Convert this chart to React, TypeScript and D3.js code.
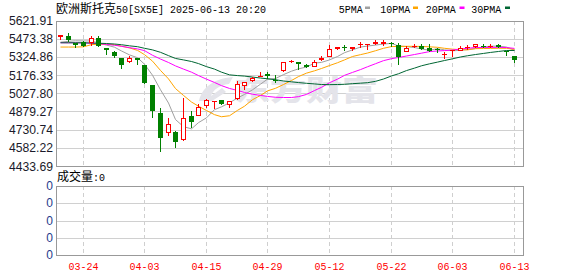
import React from 'react';
import * as d3 from 'd3';

const dates = ['03-19','03-20','03-21','03-24','03-25','03-26','03-27','03-28','03-31','04-01','04-02','04-03','04-04','04-07','04-08','04-09','04-10','04-11','04-14','04-15','04-16','04-17','04-22','04-23','04-24','04-25','04-28','04-29','04-30','05-02','05-05','05-06','05-07','05-08','05-09','05-12','05-13','05-14','05-15','05-16','05-19','05-20','05-21','05-22','05-23','05-26','05-27','05-28','05-29','05-30','06-02','06-03','06-04','06-05','06-06','06-09','06-10','06-11','06-12','06-13'];

const opens = [5486,5498,5438,5446,5438,5476,5395,5368,5314,5281,5314,5255,5092,4870,4707,4713,4646,4841,4841,4922,4956,4971,4935,4979,5084,5124,5167,5184,5138,5206,5284,5281,5259,5243,5298,5324,5389,5405,5389,5418,5422,5427,5433,5440,5422,5368,5405,5411,5400,5390,5343,5373,5373,5400,5405,5416,5405,5421,5373,5330];
const highs = [5505,5519,5441,5452,5492,5492,5400,5370,5316,5336,5316,5259,5092,4908,4827,4716,4992,4881,4943,4980,4962,4972,4965,5124,5121,5160,5200,5200,5178,5284,5296,5287,5265,5303,5330,5422,5408,5421,5408,5449,5429,5465,5459,5443,5438,5413,5433,5427,5433,5400,5368,5378,5416,5424,5433,5427,5433,5427,5375,5333];
const lows = [5465,5443,5400,5405,5417,5405,5340,5319,5222,5271,5259,5103,4827,4546,4675,4581,4640,4740,4838,4910,4897,4930,4908,4975,5052,5118,5165,5146,5113,5200,5276,5214,5235,5240,5295,5320,5385,5373,5373,5400,5384,5425,5417,5405,5255,5365,5395,5378,5362,5357,5308,5324,5370,5380,5400,5395,5400,5400,5330,5275];
const closes = [5503,5460,5422,5413,5476,5417,5379,5336,5255,5319,5303,5113,4886,4659,4778,4627,4826,4795,4914,4971,4962,4943,4962,5105,5119,5152,5172,5168,5127,5281,5292,5265,5243,5287,5314,5389,5405,5399,5405,5427,5427,5449,5443,5427,5324,5400,5411,5389,5373,5385,5352,5378,5400,5408,5427,5411,5413,5405,5368,5298];

const ma5 = [5445,5452,5456,5455,5455,5438,5421,5404,5373,5341,5318,5265,5175,5056,4948,4813,4755,4737,4788,4827,4894,4917,4950,4989,5018,5056,5102,5143,5148,5180,5208,5227,5242,5274,5280,5300,5328,5359,5382,5405,5413,5421,5430,5435,5414,5409,5401,5390,5379,5392,5382,5375,5378,5385,5393,5405,5412,5413,5405,5379];
const ma10 = [5405,5405,5405,5407,5425,5428,5428,5424,5412,5398,5378,5343,5290,5214,5145,5066,5010,4956,4922,4887,4853,4836,4844,4888,4922,4975,5010,5047,5068,5099,5132,5164,5192,5211,5230,5254,5277,5300,5328,5343,5356,5375,5395,5409,5410,5411,5411,5410,5407,5403,5395,5388,5384,5382,5392,5393,5394,5395,5395,5386];
const ma20 = [5440,5440,5440,5438,5436,5432,5427,5420,5411,5400,5390,5376,5338,5307,5279,5251,5225,5200,5172,5143,5116,5090,5067,5051,5034,5020,5010,5002,4995,4993,4993,5000,5018,5050,5076,5114,5143,5174,5198,5221,5244,5269,5294,5310,5320,5332,5344,5355,5368,5373,5376,5381,5389,5395,5401,5402,5402,5403,5401,5394];
const ma30 = [5440,5440,5440,5440,5438,5436,5434,5430,5424,5415,5408,5395,5382,5362,5335,5312,5300,5287,5270,5245,5225,5200,5178,5172,5168,5160,5152,5146,5138,5128,5121,5115,5109,5104,5099,5098,5099,5101,5106,5110,5114,5125,5144,5169,5187,5213,5233,5252,5268,5282,5295,5309,5324,5334,5344,5353,5361,5369,5377,5377];

const yTicks = [5621.91, 5473.38, 5324.86, 5176.33, 5027.80, 4879.27, 4730.74, 4582.22, 4433.69];
const xTickLabels = ['03-24','04-03','04-15','04-29','05-12','05-22','06-03','06-13'];
const volTickLabels = ['0','0','0','0','0'];
const titleCjk = '欧洲斯托克';
const titleRest = '50[SX5E] 2025-06-13 20:20';
const legendNames = ['5PMA','10PMA','20PMA','30PMA'];
const legendColors = ['#a0a0a0','#ffa500','#ff00ff','#006633'];
const volCjk = '成交量';
const volRest = ':0';

const UP = '#ff0000';
const DOWN = '#008000';
const MONO = "'Liberation Mono', 'DejaVu Sans Mono', monospace";
const CJK = "'Noto Sans CJK SC', sans-serif";

export default function App() {
  const W = 578, H = 276;
  const L = 56, R = 523, T = 20.5, B = 166;
  const VT = 186, VB = 255;
  const step = 7.69;

  const x = d3.scaleBand<string>().domain(dates).range([L, L + dates.length * step]).padding(0);
  const cx = (i: number) => Math.round((x(dates[i]) as number) + x.bandwidth() / 2);
  const y = d3.scaleLinear().domain([4433.69, 5621.91]).range([B, T]);
  const vy = d3.scaleLinear().domain([0, volTickLabels.length - 1]).range([VB, VT]);

  const line = d3.line<number>().x((_, i) => cx(i) + 0.5).y((v) => y(v));
  const maSeries = [ma5, ma10, ma20, ma30];

  const legendTextX = [338.7, 380.3, 425.7, 471.3];
  const legendDashX = [365, 413, 459.5, 505];

  const candles = dates.map((d, i) => {
    const c = cx(i);
    const o = opens[i], cl = closes[i];
    const yH = Math.round(y(highs[i]));
    const yL = Math.round(y(lows[i]));
    const yO = Math.round(y(o));
    const yC = Math.round(y(cl));
    const up = cl >= o;
    const top = Math.min(yO, yC);
    const bot = Math.max(yO, yC);
    if (up) {
      const h = Math.max(bot - top, 1);
      return (
        <g key={d}>
          <line x1={c + 0.5} x2={c + 0.5} y1={yH} y2={top} stroke={UP} />
          <line x1={c + 0.5} x2={c + 0.5} y1={top + h} y2={yL} stroke={UP} />
          {bot - top <= 1 ? (
            <rect x={c - 2} y={top} width={5} height={1} fill={UP} />
          ) : (
            <rect x={c - 1.5} y={top + 0.5} width={4} height={h - 1} fill="#fff" stroke={UP} />
          )}
        </g>
      );
    }
    const h = Math.max(bot - top, 1);
    return (
      <g key={d}>
        <line x1={c + 0.5} x2={c + 0.5} y1={yH} y2={yL} stroke={DOWN} />
        <rect x={c - 2} y={top} width={5} height={h} fill={DOWN} />
      </g>
    );
  });

  return (
    <svg width={W} height={H} style={{ position: 'absolute', left: 0, top: 0, background: '#fff' }}>
      <rect x={0} y={0} width={W} height={H} fill="#fff" />
      {/* title */}
      <text x={56} y={12.5} fontFamily={CJK} fontSize={12} fill="#000" textLength={60} lengthAdjust="spacingAndGlyphs">{titleCjk}</text>
      <text x={116} y={12.5} fontFamily={MONO} fontSize={11} fill="#000" textLength={150} lengthAdjust="spacingAndGlyphs">{titleRest}</text>
      {/* legend */}
      {legendNames.map((n, i) => (
        <g key={n}>
          <text x={legendTextX[i]} y={12.5} fontFamily={MONO} fontSize={11} fill="#000" textLength={n.length * 6} lengthAdjust="spacingAndGlyphs">{n}</text>
          <rect x={legendDashX[i]} y={6.5} width={5} height={2.5} fill={legendColors[i]} />
        </g>
      ))}

      {/* main grid */}
      <g shapeRendering="crispEdges">
        {yTicks.map((t) => (
          <line key={t} x1={L} x2={R} y1={Math.round(y(t)) + 0.5} y2={Math.round(y(t)) + 0.5} stroke="#d0d0d0" />
        ))}
        {xTickLabels.map((lbl) => {
          const i = dates.indexOf(lbl);
          return (
            <g key={lbl}>
              <line x1={cx(i) + 0.5} x2={cx(i) + 0.5} y1={T} y2={B} stroke="#cfcfcf" strokeDasharray="4,3" />
              <line x1={cx(i) + 0.5} x2={cx(i) + 0.5} y1={VT} y2={VB} stroke="#cfcfcf" strokeDasharray="4,3" />
            </g>
          );
        })}
        {volTickLabels.map((_, k) => (
          <line key={k} x1={L} x2={R} y1={Math.round(vy(k)) + 0.5} y2={Math.round(vy(k)) + 0.5} stroke="#d0d0d0" />
        ))}
      </g>

      {/* watermark */}
      <g fill="#e4e4ea">
        <path d="M199,101 C202,88 212,79 233,77 L229,84 C219,85 213,90 211,96 L222,88 L226,92 L212,101 Z" />
        <text x={234} y={101} fontFamily={CJK} fontWeight={900} fontSize={28} textLength={144} lengthAdjust="spacingAndGlyphs">东方财富</text>
      </g>

      {/* MA lines */}
      {maSeries.map((s, k) => (
        <path key={k} d={line(s) || ''} fill="none" stroke={legendColors[k]} strokeWidth={1} />
      ))}

      {/* candles */}
      <g shapeRendering="crispEdges">{candles}</g>

      {/* borders */}
      <g shapeRendering="crispEdges" fill="none" stroke="#999">
        <rect x={L + 0.5} y={Math.round(T) + 0.5} width={R - L} height={Math.round(B) - Math.round(T)} />
        <rect x={L + 0.5} y={VT + 0.5} width={R - L} height={VB - VT} />
      </g>

      {/* y labels */}
      {yTicks.map((t) => (
        <text key={t} x={53} y={y(t) + 4.5} textAnchor="end" fontFamily="'Liberation Sans', Arial, sans-serif" fontSize={13} fill="#1a1a2a" textLength={44} lengthAdjust="spacingAndGlyphs">{t.toFixed(2)}</text>
      ))}
      {volTickLabels.map((t, k) => (
        <text key={k} x={53} y={vy(k) + 4} textAnchor="end" fontFamily="'Liberation Sans', Arial, sans-serif" fontSize={12} fill="#1f3c8c">{t}</text>
      ))}

      {/* volume label */}
      <text x={57} y={181} fontFamily={CJK} fontSize={12} fill="#000" textLength={36} lengthAdjust="spacingAndGlyphs">{volCjk}</text>
      <text x={93} y={181} fontFamily={MONO} fontSize={11} fill="#000" textLength={12} lengthAdjust="spacingAndGlyphs">{volRest}</text>

      {/* x labels */}
      {xTickLabels.map((lbl) => {
        const i = dates.indexOf(lbl);
        return (
          <text key={lbl} x={cx(i) + 0.5} y={270} textAnchor="middle" fontFamily={MONO} fontSize={11} fill="#ff0000" textLength={30} lengthAdjust="spacingAndGlyphs">{lbl}</text>
        );
      })}
    </svg>
  );
}
